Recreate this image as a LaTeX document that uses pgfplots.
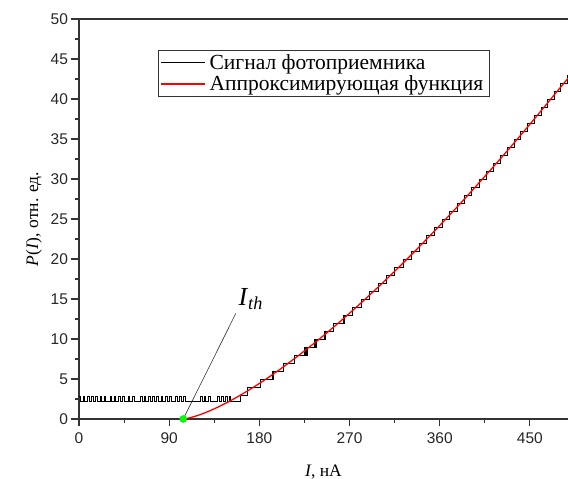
\documentclass[border=0pt]{standalone}
\usepackage{fontspec}
\setmainfont{Liberation Serif}
\setsansfont{Liberation Sans}
\usepackage{pgfplots}
\pgfplotsset{compat=1.18}
\definecolor{axgray}{HTML}{333333}
\begin{document}
\begin{tikzpicture}
\begin{axis}[
  name=ax,
  scale only axis,
  width=489pt, height=400pt,
  xmin=0, xmax=488, ymin=0, ymax=50,
  axis x line=box, axis y line=left,
  axis line style={-, axgray, line width=1.3pt},
  xtick pos=left, ytick pos=left,
  tick align=outside,
  xtick={0,90,180,270,360,450},
  ytick={0,5,...,50},
  minor x tick num=1, minor y tick num=1,
  major tick length=7.5pt, minor tick length=4pt,
  every tick/.style={axgray, line width=1.1pt},
  /pgf/number format/assume math mode=true,
  tick label style={font=\sffamily\fontsize{15.5}{17}\selectfont, text=black!85},
  xticklabel style={yshift=-3pt},
  xlabel={\textit{I}, нА},
  ylabel={\textit{P}(\textit{I}), отн. ед.},
  label style={font=\fontsize{17.5}{20}\selectfont},
  xlabel style={yshift=-14pt},
  ylabel style={yshift=2pt},
  legend style={at={(rel axis cs:0.1616,0.9225)}, anchor=north west,
    draw=axgray, line width=0.6pt, font=\fontsize{21.5}{23}\selectfont,
    row sep=1pt, inner xsep=2pt, inner ysep=2pt,
    nodes={inner xsep=4pt}},
  legend cell align=left,
  legend image code/.code={\draw[mark repeat=2,mark phase=2,#1] plot coordinates {(0pt,0pt) (22pt,0pt) (44pt,0pt)};},
]
\addplot[const plot, black, line width=0.75pt] coordinates {
(0,2.85)(1.8,2.15)(4,2.85)(5.6,2.15)(8.5,2.85)(10.2,2.15)(12.5,2.85)(14,2.15)(16.5,2.85)(18.3,2.15)
(21,2.85)(22.6,2.15)(25,2.85)(26.8,2.15)
(31,2.85)(32.6,2.15)(35,2.85)(36.8,2.15)(39.5,2.85)(41,2.15)(43.5,2.85)(45.2,2.15)
(49,2.85)(50.7,2.15)(53,2.85)(54.8,2.15)
(61,2.85)(62.8,2.15)(65,2.85)(66.6,2.15)(69.5,2.85)(71.2,2.15)(73.5,2.85)(75,2.15)(77.5,2.85)(79.3,2.15)
(82,2.85)(83.6,2.15)(86,2.85)(87.8,2.15)(90.5,2.85)(92,2.15)
(96.5,2.85)(98.2,2.15)(100.5,2.85)(102,2.15)(104.5,2.85)(106.3,2.15)
(121,2.85)(122.8,2.15)(125,2.85)(126.6,2.15)(129.5,2.85)(131.2,2.15)
(138,2.85)(139.7,2.15)(142,2.85)(143.8,2.15)(146.5,2.85)(148,2.15)(150,2.85)(151.5,2.15)
(161,3)(168,4)(180.7,5)(192.5,6)(193.3,5)(194,6)(203.8,7)(214.6,8)
(224.9,9)(225.8,8)(226.5,9)(227.3,8)(228,9)
(235,10)(235.8,9)(236.5,10)(244.7,11)(245.5,10)(246.3,11)(254.2,12)
(263.4,13)(264.2,12)(265,13)(272.5,14)(281.3,15)(290,16)(298.6,17)(306.9,18)
(315.2,19)(323.3,20)(331.3,21)(339.2,22)(347,23)(354.7,24)(362.3,25)(369.8,26)
(377.2,27)(384.6,28)(391.8,29)(399.1,30)(406.2,31)(413.3,32)(420.3,33)(427.2,34)
(434.1,35)(440.9,36)(447.7,37)(454.4,38)(461.1,39)(467.7,40)(474.3,41)(480.8,42)
(487.3,43)(490,43)
};
\addlegendentry{Сигнал фотоприемника}
\addplot[red, line width=1.3pt, smooth] coordinates {
(104,0)(110,0.129)(120,0.505)(130,0.996)(140,1.568)(150,2.206)(160,2.901)(170,3.650)
(180,4.441)(190,5.281)(200,6.156)(220,8.023)(240,10.007)(260,12.12)(280,14.34)
(300,16.66)(320,19.07)(340,21.58)(360,24.19)(380,26.86)(400,29.63)(420,32.45)
(440,35.36)(460,38.35)(480,41.38)(490,42.89)
};
\addlegendentry{Аппроксимирующая функция}
\addplot[only marks, mark=*, mark size=3.5pt, color=green!90!black, fill=green, forget plot] coordinates {(104,0)};
\draw[black!80, line width=0.6pt] (axis cs:104,0) -- (axis cs:156.5,13.2);
\node[anchor=south west, inner sep=0pt, font=\fontsize{26}{28}\selectfont] at (axis cs:159,13.6) {\textit{I}\textsubscript{\textit{th}}};
\end{axis}
\pgfresetboundingbox
\path ([xshift=-79pt,yshift=-60pt]ax.south west) rectangle ([yshift=19pt]ax.north east);
\end{tikzpicture}
\end{document}
